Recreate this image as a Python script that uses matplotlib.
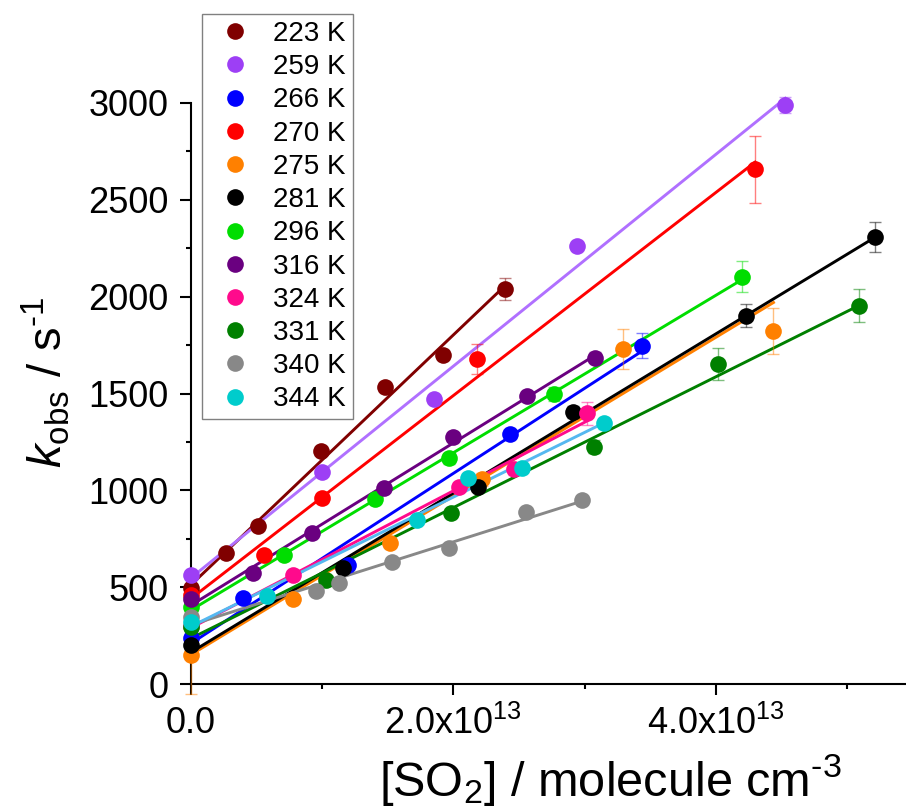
import numpy as np
import matplotlib.pyplot as plt
from matplotlib.lines import Line2D
from matplotlib.ticker import MultipleLocator, FixedLocator, FixedFormatter

plt.rcParams['font.family'] = ['Liberation Sans', 'DejaVu Sans']
plt.rcParams['mathtext.fontset'] = 'custom'
plt.rcParams['mathtext.rm'] = 'Liberation Sans'
plt.rcParams['mathtext.it'] = 'Liberation Sans:italic'

temps = [223, 259, 266, 270, 275, 281, 296, 316, 324, 331, 340, 344]

# [SO2] in units of 1e13 molecule cm-3
so2 = [
    [0, 0.27, 0.51, 0.99, 1.48, 1.92, 2.39],
    [0, 1.00, 1.85, 2.94, 4.53],
    [0, 0.40, 1.20, 2.43, 3.44],
    [0, 0.56, 1.00, 2.18, 4.30],
    [0, 0.78, 1.52, 2.22, 3.29, 4.44],
    [0, 1.16, 2.19, 2.91, 4.23, 5.21],
    [0, 0.71, 1.40, 1.97, 2.77, 4.20],
    [0, 0.47, 0.92, 1.47, 2.00, 2.56, 3.08],
    [0, 0.78, 2.04, 2.46, 3.02],
    [0, 1.03, 1.98, 3.07, 4.02, 5.09],
    [0, 0.95, 1.13, 1.53, 1.97, 2.55, 2.98],
    [0, 0.58, 1.72, 2.11, 2.52, 3.15],
]

# k_obs / s-1
kobs = [
    [494, 675, 816, 1205, 1535, 1699, 2038],
    [563, 1093, 1472, 2263, 2990],
    [236, 442, 614, 1289, 1747],
    [460, 666, 959, 1677, 2658],
    [150, 439, 730, 1057, 1728, 1823],
    [201, 600, 1019, 1406, 1902, 2307],
    [396, 666, 954, 1165, 1496, 2103],
    [437, 572, 778, 1011, 1277, 1487, 1685],
    [300, 563, 1016, 1109, 1398],
    [293, 537, 881, 1226, 1651, 1954],
    [344, 482, 520, 632, 704, 886, 950],
    [322, 456, 847, 1062, 1117, 1346],
]

kerr = [
    [20, 20, 20, 25, 25, 25, 57],
    [15, 20, 20, 25, 43],
    [15, 15, 20, 25, 65],
    [20, 20, 25, 77, 172],
    [200, 20, 30, 35, 103, 119],
    [15, 20, 25, 30, 60, 77],
    [15, 20, 25, 30, 35, 81],
    [15, 15, 20, 20, 25, 25, 30],
    [15, 20, 25, 30, 60],
    [15, 20, 25, 35, 83, 86],
    [15, 15, 15, 20, 20, 25, 25],
    [15, 15, 20, 25, 25, 30],
]

mcolors = ['#800000', '#9D3FF5', '#0000FF', '#FF0000', '#FF8000', '#000000',
           '#00DD00', '#6A0080', '#FF0A8C', '#008000', '#888888', '#00CCCC']
lcolors = ['#800000', '#B070FF', '#0000FF', '#FF0000', '#FF8000', '#000000',
           '#00DD00', '#6A0080', '#FF0A8C', '#008000', '#888888', '#55B8F0']

fig = plt.figure(figsize=(9.06, 8.09), dpi=100)
ax = fig.add_axes([191/906, 125/809, 715/906, 581/809])

handles = []
for i, T in enumerate(temps):
    x = np.array(so2[i]) * 1e13
    y = np.array(kobs[i])
    m, c = np.polyfit(x, y, 1)
    xf = np.array([0, x.max()])
    ax.plot(xf, m*xf + c, '-', color=lcolors[i], lw=2.1, zorder=2+i*0.01, clip_on=False)
    ax.errorbar(x, y, yerr=kerr[i], fmt='none', ecolor=mcolors[i], alpha=0.5,
                elinewidth=1, capsize=4.5, capthick=1, zorder=3, clip_on=False)
    ax.plot(x, y, 'o', color=mcolors[i], ms=12, mew=0, zorder=4+i*0.01, clip_on=False)
    handles.append(Line2D([], [], ls='none', marker='o', color=mcolors[i], ms=12, mew=0))

ax.set_xlim(0, 5.45e13)
ax.set_ylim(0, 3000)

for s in ['top', 'right']:
    ax.spines[s].set_visible(False)
for s in ['left', 'bottom']:
    ax.spines[s].set_linewidth(1.5)

ax.xaxis.set_major_locator(FixedLocator([0, 2e13, 4e13]))
ax.xaxis.set_major_formatter(FixedFormatter(['0.0', '2.0x10$^{13}$', '4.0x10$^{13}$']))
ax.xaxis.set_minor_locator(MultipleLocator(1e13))
ax.yaxis.set_major_locator(MultipleLocator(500))
ax.yaxis.set_minor_locator(MultipleLocator(250))
ax.tick_params(which='major', direction='out', length=8, width=1.5, labelsize=26, pad=8)
ax.tick_params(which='minor', direction='out', length=3.6, width=1.5)

ax.set_xlabel('[SO$_2$] / molecule cm$^{\\text{-}3}$', fontsize=35)
ax.set_ylabel('$k_{\\rm obs}$ / s$^{\\text{-}1}$', fontsize=34)
ax.xaxis.set_label_coords(0.587, -0.117)
ax.yaxis.set_label_coords(-0.167, 0.52)

fig.legend(handles, [f'{T} K' for T in temps], loc='upper left',
           bbox_to_anchor=(202/906, 1 - 14/809), borderaxespad=0,
           fontsize=20, frameon=True, fancybox=False, edgecolor='#808080',
           framealpha=1, borderpad=0.25, handlelength=1.9, handletextpad=0.4,
           labelspacing=0.26)

fig.savefig('out.png', dpi=100)
